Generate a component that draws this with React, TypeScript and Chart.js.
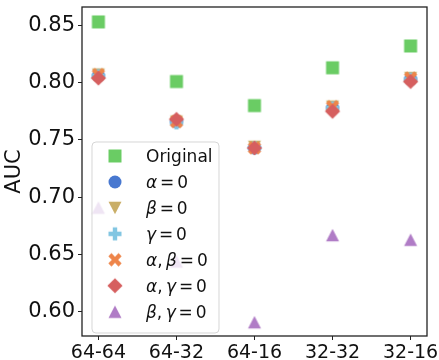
import React, { useEffect, useRef } from "react";
import { Chart, registerables } from "chart.js";

Chart.register(...registerables);

const categories = ["64-64", "64-32", "64-16", "32-32", "32-16"];
const yTicks = [0.6, 0.65, 0.7, 0.75, 0.8, 0.85];

const original = [0.853, 0.801, 0.780, 0.813, 0.832];
const alpha0 = [0.806, 0.766, 0.743, 0.778, 0.803];
const beta0 = [0.807, 0.766, 0.744, 0.779, 0.804];
const gamma0 = [0.806, 0.765, 0.743, 0.778, 0.803];
const alphaBeta0 = [0.807, 0.766, 0.743, 0.779, 0.804];
const alphaGamma0 = [0.804, 0.768, 0.743, 0.775, 0.801];
const betaGamma0 = [0.691, 0.644, 0.591, 0.667, 0.663];

type Seg = { t: string; it?: boolean; gap?: number };

const seriesDefs: { label: Seg[]; data: number[]; color: string; marker: string }[] = [
  { label: [{ t: "Original" }], data: original, color: "#6ACC64", marker: "square" },
  { label: [{ t: "α", it: true }, { t: "=", gap: 0.17 }, { t: "0", gap: 0.17 }], data: alpha0, color: "#4878D0", marker: "circle" },
  { label: [{ t: "β", it: true }, { t: "=", gap: 0.17 }, { t: "0", gap: 0.17 }], data: beta0, color: "#C9AE66", marker: "triDown" },
  { label: [{ t: "γ", it: true }, { t: "=", gap: 0.17 }, { t: "0", gap: 0.17 }], data: gamma0, color: "#82C6E2", marker: "plus" },
  { label: [{ t: "α", it: true }, { t: "," }, { t: "β", it: true, gap: 0.2 }, { t: "=", gap: 0.17 }, { t: "0", gap: 0.17 }], data: alphaBeta0, color: "#EE854A", marker: "x" },
  { label: [{ t: "α", it: true }, { t: "," }, { t: "γ", it: true, gap: 0.2 }, { t: "=", gap: 0.17 }, { t: "0", gap: 0.17 }], data: alphaGamma0, color: "#D65F5F", marker: "diamond" },
  { label: [{ t: "β", it: true }, { t: "," }, { t: "γ", it: true, gap: 0.2 }, { t: "=", gap: 0.17 }, { t: "0", gap: 0.17 }], data: betaGamma0, color: "#B07CC6", marker: "triUp" },
];

function makeMarker(kind: string, color: string): HTMLCanvasElement {
  const c = document.createElement("canvas");
  c.width = 24;
  c.height = 24;
  const g = c.getContext("2d")!;
  g.translate(12, 12);
  g.fillStyle = color;
  g.beginPath();
  const s = 6.5;
  if (kind === "square") {
    g.rect(-s, -s, 2 * s, 2 * s);
  } else if (kind === "circle") {
    g.arc(0, 0, s, 0, Math.PI * 2);
  } else if (kind === "triDown") {
    g.moveTo(0, 6.2);
    g.lineTo(-s, -6.2);
    g.lineTo(s, -6.2);
    g.closePath();
  } else if (kind === "triUp") {
    g.moveTo(0, -6.2);
    g.lineTo(s, 6.2);
    g.lineTo(-s, 6.2);
    g.closePath();
  } else if (kind === "plus" || kind === "x") {
    const t = 2.2;
    const e = kind === "plus" ? s : 7.2;
    if (kind === "x") g.rotate(Math.PI / 4);
    g.moveTo(-t, -e);
    g.lineTo(t, -e);
    g.lineTo(t, -t);
    g.lineTo(e, -t);
    g.lineTo(e, t);
    g.lineTo(t, t);
    g.lineTo(t, e);
    g.lineTo(-t, e);
    g.lineTo(-t, t);
    g.lineTo(-e, t);
    g.lineTo(-e, -t);
    g.lineTo(-t, -t);
    g.closePath();
  } else if (kind === "diamond") {
    const d = 7.6;
    g.moveTo(0, -d);
    g.lineTo(d, 0);
    g.lineTo(0, d);
    g.lineTo(-d, 0);
    g.closePath();
  }
  g.fill();
  return c;
}

export default function App() {
  const ref = useRef<HTMLCanvasElement | null>(null);

  useEffect(() => {
    document.body.style.margin = "0";
    const canvas = ref.current!;
    const markers = seriesDefs.map((s) => makeMarker(s.marker, s.color));
    const n = seriesDefs.length;

    const framePlugin = {
      id: "frameAndLegend",
      afterDraw(chart: any) {
        const ctx = chart.ctx as CanvasRenderingContext2D;
        const a = chart.chartArea;
        ctx.save();
        ctx.strokeStyle = "#222";
        ctx.lineWidth = 1.3;
        ctx.strokeRect(a.left, a.top, a.right - a.left, a.bottom - a.top);

        // legend
        const bx = 92, by = 142, bw = 127, bh = 191, r = 4;
        ctx.beginPath();
        ctx.moveTo(bx + r, by);
        ctx.lineTo(bx + bw - r, by);
        ctx.arcTo(bx + bw, by, bx + bw, by + r, r);
        ctx.lineTo(bx + bw, by + bh - r);
        ctx.arcTo(bx + bw, by + bh, bx + bw - r, by + bh, r);
        ctx.lineTo(bx + r, by + bh);
        ctx.arcTo(bx, by + bh, bx, by + bh - r, r);
        ctx.lineTo(bx, by + r);
        ctx.arcTo(bx, by, bx + r, by, r);
        ctx.closePath();
        ctx.fillStyle = "rgba(255,255,255,0.8)";
        ctx.fill();
        ctx.strokeStyle = "rgba(204,204,204,0.8)";
        ctx.lineWidth = 1;
        ctx.stroke();

        const fs = 17;
        seriesDefs.forEach((s, i) => {
          const cy = 156 + i * 25.95;
          const m = markers[i];
          ctx.drawImage(m, 115 - m.width / 2, cy - m.height / 2);
          let x = 146;
          ctx.fillStyle = "#111";
          ctx.textBaseline = "alphabetic";
          ctx.textAlign = "left";
          s.label.forEach((seg) => {
            x += (seg.gap || 0) * fs;
            ctx.font = `${seg.it ? "italic " : ""}${fs}px 'DejaVu Sans'`;
            ctx.fillText(seg.t, x, cy + 6.2);
            x += ctx.measureText(seg.t).width;
          });
        });
        ctx.restore();
      },
    };

    const chart = new Chart(canvas, {
      type: "scatter",
      data: {
        datasets: seriesDefs.map((s, i) => ({
          label: s.label.map((g) => g.t).join(""),
          data: s.data.map((v, k) => ({ x: k, y: v })),
          pointStyle: markers[i] as any,
          pointRadius: 6,
          backgroundColor: s.color,
          borderColor: s.color,
          order: n - i,
        })),
      },
      options: {
        animation: false,
        responsive: false,
        devicePixelRatio: 1,
        layout: { padding: { left: 0, right: 12, top: 2, bottom: 0 } },
        plugins: { legend: { display: false }, tooltip: { enabled: false } },
        scales: {
          x: {
            type: "linear",
            min: -0.21,
            max: 4.21,
            afterBuildTicks: (axis: any) => {
              axis.ticks = categories.map((_, k) => ({ value: k }));
            },
            afterFit: (axis: any) => {
              axis.height = 24;
              axis.paddingLeft = 0;
              axis.paddingRight = 0;
            },
            ticks: {
              autoSkip: false,
              maxRotation: 0,
              padding: 2,
              color: "#111",
              font: { family: "'DejaVu Sans'", size: 19 },
              callback: (v: any) => categories[Math.round(Number(v))] ?? "",
            },
            grid: { display: true, drawOnChartArea: false, drawTicks: true, tickLength: 4, color: "#222" },
            border: { display: false },
          },
          y: {
            min: 0.579,
            max: 0.866,
            afterBuildTicks: (axis: any) => {
              axis.ticks = yTicks.map((v) => ({ value: v }));
            },
            afterFit: (axis: any) => {
              axis.width = 82;
              axis.paddingTop = 0;
              axis.paddingBottom = 0;
            },
            ticks: {
              padding: 3,
              color: "#111",
              font: { family: "'DejaVu Sans'", size: 21 },
              callback: (v: any) => Number(v).toFixed(2),
            },
            grid: { display: true, drawOnChartArea: false, drawTicks: true, tickLength: 4, color: "#222" },
            border: { display: false },
            title: {
              display: true,
              text: "AUC",
              color: "#111",
              padding: { top: 2, bottom: 0 },
              font: { family: "'DejaVu Sans'", size: 21, lineHeight: 1.2 },
            },
          },
        },
      },
      plugins: [framePlugin],
    });
    return () => chart.destroy();
  }, []);

  return (
    <div style={{ position: "absolute", left: 0, top: 0, width: 439, height: 360 }}>
      <canvas ref={ref} width={439} height={360} />
    </div>
  );
}
